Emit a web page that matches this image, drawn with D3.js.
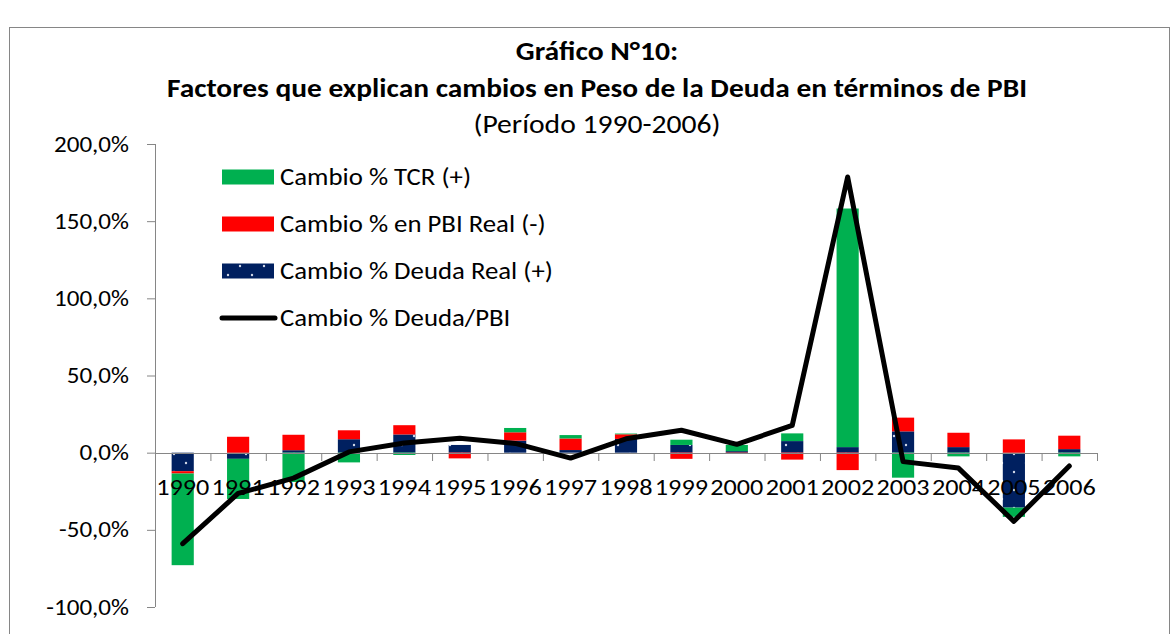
<!DOCTYPE html>
<html>
<head>
<meta charset="utf-8">
<script src="https://cdn.jsdelivr.net/npm/d3@7"></script>
<style>
  body { margin: 0; background: #fff; }
  svg text { font-family: Carlito, Lato, sans-serif; fill: #000; }
</style>
</head>
<body>
<div id="chart"></div>
<script>

var years = ["1990","1991","1992","1993","1994","1995","1996","1997","1998","1999","2000","2001","2002","2003","2004","2005","2006"];

// values in %
var deudaReal = [-12, -4, 1.6, 8.7, 11.8, 5, 7.8, 1.7, 8.9, 5, 1, 7.5, 3.6, 13.8, 3.6, -35.6, 2.3];
var pbiReal   = [-1.5, 10.3, 10, 5.8, 6, -3.7, 5.4, 7.5, 3, -4, -0.8, -4.5, -11.3, 8.9, 9.3, 8.6, 8.7];
var tcr       = [-59.4, -26, -19, -6.3, -1.5, 0, 2.8, 2.2, 0.5, 3.4, 4, 5, 154.6, -16.2, -2.4, -6, -2.4];
var deudaPbi  = [-59, -26.4, -16.5, 0.5, 6.3, 9.3, 6, -3.5, 9, 14.5, 5.4, 17.7, 178.6, -5.8, -10, -44.5, -8.6];

var yTicks = [-100, -50, 0, 50, 100, 150, 200];

var seriesKeys = ["deuda", "pbi", "tcr"];
var seriesColor = { tcr: "#00B050", pbi: "#FF0000", deuda: "url(#dots)" };

var legendItems = [
	{ key: "tcr", label: "Cambio % TCR (+)" },
	{ key: "pbi", label: "Cambio % en PBI Real (-)" },
	{ key: "deuda", label: "Cambio % Deuda Real (+)" },
	{ key: "line", label: "Cambio % Deuda/PBI" }
];

var width = 1174,
	height = 634;

var plotLeft = 155, plotRight = 1097, plotTop = 144, plotBottom = 607;
var stretch = 1.14; // the source picture is a little wider than tall

var svg = d3.select("#chart")
	.append("svg")
	.attr("width", width)
	.attr("height", height);

// puts a text at x,y, stretched horizontally
function place(sel, px, py, size, anchor){
	return sel
		.attr("transform", function(d, i){
			var xx = typeof px === "function" ? px(d, i) : px;
			var yy = typeof py === "function" ? py(d, i) : py;
			return "translate(" + xx + "," + yy + ") scale(" + stretch + ",1)";
		})
		.attr("text-anchor", anchor || "start")
		.style("font-size", size + "px");
}

// navy fill with small white dots
var pat = svg.append("defs").append("pattern")
	.attr("id", "dots")
	.attr("patternUnits", "userSpaceOnUse")
	.attr("width", 24)
	.attr("height", 18);
pat.append("rect").attr("width", 24).attr("height", 18).attr("fill", "#002060");
pat.append("circle").attr("cx", 6).attr("cy", 4).attr("r", 1.2).attr("fill", "#d0d8e8");
pat.append("circle").attr("cx", 18).attr("cy", 13).attr("r", 1.2).attr("fill", "#d0d8e8");

// chart border
svg.append("rect")
	.attr("x", 9.5)
	.attr("y", 27.5)
	.attr("width", 1160)
	.attr("height", 640)
	.attr("fill", "none")
	.attr("stroke", "#868686")
	.attr("stroke-width", 1);

// titles
place(svg.append("text"), 597, 60, 26, "middle")
	.style("font-weight", "bold")
	.text("Gráfico N°10:");
place(svg.append("text"), 597, 97, 25.8, "middle")
	.style("font-weight", "bold")
	.text("Factores que explican cambios en Peso de la Deuda en términos de PBI");
place(svg.append("text"), 597, 133, 26, "middle")
	.text("(Período 1990-2006)");

var x = d3.scaleBand()
	.domain(years)
	.range([plotLeft, plotRight])
	.paddingInner(0.6)
	.paddingOuter(0.3);

var y = d3.scaleLinear()
	.domain([-100, 200])
	.range([plotBottom, plotTop]);

var rows = years.map(function(yr, i){
	return { year: yr, deuda: deudaReal[i], pbi: pbiReal[i], tcr: tcr[i] };
});

var stacked = d3.stack()
	.keys(seriesKeys)
	.offset(d3.stackOffsetDiverging)(rows);

var g = svg.append("g");

g.selectAll("g.series")
	.data(stacked)
	.enter()
	.append("g")
	.attr("class", "series")
	.attr("fill", function(s){ return seriesColor[s.key]; })
	.selectAll("rect")
	.data(function(s){ return s; })
	.enter()
	.append("rect")
	.attr("x", function(d){ return x(d.data.year); })
	.attr("width", x.bandwidth())
	.attr("y", function(d){ return y(Math.max(d[0], d[1])); })
	.attr("height", function(d){ return Math.abs(y(d[0]) - y(d[1])); });

// y axis
var yAxis = svg.append("g")
	.attr("transform", "translate(" + plotLeft + ",0)")
	.call(d3.axisLeft(y)
		.tickValues(yTicks)
		.tickSize(8)
		.tickFormat(""));
yAxis.select(".domain").attr("stroke", "#868686").attr("d", "M0.5," + plotTop + "V" + plotBottom);
yAxis.selectAll(".tick line").attr("stroke", "#868686");

place(svg.append("g").selectAll("text").data(yTicks).enter().append("text"),
		129, function(d){ return y(d) + 7.5; }, 22, "end")
	.text(function(d){ return d3.format(".1f")(d).replace("−", "-").replace(".", ",") + "%"; });

// x axis at zero
var xb = d3.scaleLinear().domain([0, years.length]).range([plotLeft, plotRight]);
var xAxis = svg.append("g")
	.attr("transform", "translate(0," + Math.round(y(0)) + ")")
	.call(d3.axisBottom(xb)
		.tickValues(d3.range(years.length + 1))
		.tickSize(8)
		.tickFormat(""));
xAxis.select(".domain").attr("stroke", "#868686").attr("d", "M" + plotLeft + ",0.5H" + plotRight);
xAxis.selectAll(".tick line").attr("stroke", "#868686");

place(svg.append("g").selectAll("text").data(years).enter().append("text"),
		function(d){ return x(d) + x.bandwidth() / 2; }, 495, 23, "middle")
	.text(function(d){ return d; });

// line
var line = d3.line()
	.x(function(d, i){ return x(years[i]) + x.bandwidth() / 2; })
	.y(function(d){ return y(d); });

svg.append("path")
	.datum(deudaPbi)
	.attr("fill", "none")
	.attr("stroke", "#000")
	.attr("stroke-width", 5)
	.attr("stroke-linejoin", "round")
	.attr("stroke-linecap", "round")
	.attr("d", line);

// legend
var legend = svg.append("g")
	.selectAll("g")
	.data(legendItems)
	.enter()
	.append("g")
	.attr("transform", function(d, i){ return "translate(222," + (177 + i * 47) + ")"; });

legend.filter(function(d){ return d.key !== "line"; })
	.append("rect")
	.attr("x", 0).attr("y", -7.5)
	.attr("width", 52).attr("height", 15)
	.attr("fill", function(d){ return seriesColor[d.key]; });

legend.filter(function(d){ return d.key === "line"; })
	.append("line")
	.attr("x1", 0).attr("x2", 53)
	.attr("stroke", "#000")
	.attr("stroke-width", 5)
	.attr("stroke-linecap", "round");

place(legend.append("text"), 58, 8, 23.5, "start")
	.text(function(d){ return d.label; });

</script>
</body>
</html>
